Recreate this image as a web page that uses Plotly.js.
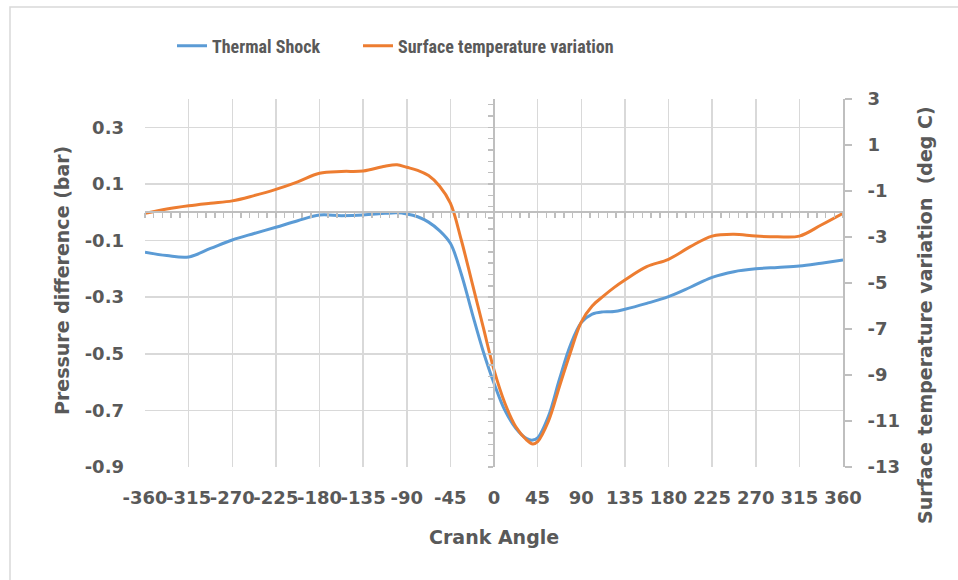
<!DOCTYPE html>
<html>
<head>
<meta charset="utf-8">
<script src="https://cdn.plot.ly/plotly-3.0.1.min.js"></script>
<style>html,body{margin:0;padding:0;background:#fff;}#chart{width:958px;height:580px;}</style>
</head>
<body>
<div id="chart"></div>
<script>
// Crank angle (deg)
const crankAngle = [-360,-337.5,-315,-292.5,-270,-247.5,-225,-202.5,-180,-157.5,-135,-112.5,-100,-90,-78.75,-67.5,-56.25,-45,-33.75,-22.5,-11.25,0,11.25,22.5,33.75,40,45,56.25,67.5,78.75,90,101.25,112.5,123.75,135,157.5,180,202.5,225,247.5,270,292.5,315,337.5,360];
// Thermal Shock: pressure difference (bar), left axis
const thermalShock = [-0.141,-0.153,-0.158,-0.128,-0.098,-0.075,-0.053,-0.030,-0.010,-0.012,-0.010,-0.004,-0.002,-0.006,-0.016,-0.035,-0.065,-0.110,-0.218,-0.357,-0.490,-0.604,-0.700,-0.763,-0.800,-0.805,-0.797,-0.720,-0.590,-0.470,-0.390,-0.360,-0.352,-0.351,-0.343,-0.322,-0.298,-0.265,-0.230,-0.210,-0.200,-0.195,-0.190,-0.180,-0.169];
// Surface temperature variation (deg C), right axis
const surfaceTemp = [-1.97,-1.78,-1.64,-1.53,-1.43,-1.20,-0.93,-0.60,-0.23,-0.15,-0.13,0.08,0.14,0.03,-0.10,-0.33,-0.78,-1.53,-3.13,-5.01,-6.90,-8.78,-10.23,-11.25,-11.83,-12.00,-11.90,-11.00,-9.50,-8.03,-6.70,-6.00,-5.58,-5.20,-4.87,-4.29,-3.97,-3.42,-2.96,-2.88,-2.96,-2.99,-2.96,-2.48,-1.97];

const seriesNames = ['Thermal Shock', 'Surface temperature variation'];

const xTickVals = [-360,-315,-270,-225,-180,-135,-90,-45,0,45,90,135,180,225,270,315,360];
const xTickText = ['-360','-315','-270','-225','-180','-135','-90','-45','0','45','90','135','180','225','270','315','360'];
const yTickVals = [-0.9,-0.7,-0.5,-0.3,-0.1,0.1,0.3];
const yTickText = ['-0.9','-0.7','-0.5','-0.3','-0.1','0.1','0.3'];
const y2TickVals = [-13,-11,-9,-7,-5,-3,-1,1,3];
const y2TickText = ['-13','-11','-9','-7','-5','-3','-1','1','3'];

const xTitle = 'Crank Angle';
const yTitle = 'Pressure difference (bar)';
const y2Title = 'Surface temperature variation  (deg C)';

const FONT = 'DejaVu Sans, Open Sans, sans-serif';
const NARROW = 'Liberation Sans Narrow, Roboto Condensed, Roboto, sans-serif';
const GREY = '#595959';
const GRID = '#d9d9d9';
const AXIS = '#bfbfbf';

const traces = [
  {x: crankAngle, y: thermalShock, name: seriesNames[0], type: 'scatter', mode: 'lines', legend: 'legend',
   line: {color: '#5B9BD5', width: 3, shape: 'spline', smoothing: 1}, xaxis: 'x', yaxis: 'y', hoverinfo: 'skip'},
  {x: crankAngle, y: surfaceTemp, name: seriesNames[1], type: 'scatter', mode: 'lines', legend: 'legend2',
   line: {color: '#ED7D31', width: 3, shape: 'spline', smoothing: 1}, xaxis: 'x', yaxis: 'y2', hoverinfo: 'skip'},
  // helpers so the axis-at-zero lines get drawn
  {x: [null], y: [null], xaxis: 'x2', yaxis: 'y', showlegend: false, hoverinfo: 'skip', mode: 'lines'},
  {x: [null], y: [null], xaxis: 'x', yaxis: 'y3', showlegend: false, hoverinfo: 'skip', mode: 'lines'}
];

const L = 145, T = 99, W = 698, H = 368;
const px = v => (v - L) / W;
const py = v => (T + H - v) / H;

const legendFont = {family: NARROW, size: 18, color: GREY, weight: 'bold'};

const layout = {
  width: 958, height: 580,
  margin: {l: L, r: 958 - L - W, t: T, b: 580 - T - H},
  paper_bgcolor: '#fff', plot_bgcolor: '#fff',
  showlegend: true,
  legend: {orientation: 'h', x: px(172), xanchor: 'left', y: py(46), yanchor: 'middle',
           font: legendFont, bgcolor: 'rgba(0,0,0,0)'},
  legend2: {orientation: 'h', x: px(358), xanchor: 'left', y: py(46), yanchor: 'middle',
           font: legendFont, bgcolor: 'rgba(0,0,0,0)'},
  xaxis: {range: [-360, 360], tickvals: xTickVals, ticktext: xTickText, tickangle: 0,
          showgrid: true, gridcolor: GRID, gridwidth: 1.5, zeroline: false, showline: false, ticks: '',
          ticklabelstandoff: 18,
          tickfont: {family: FONT, size: 18, color: GREY, weight: 'bold'}},
  xaxis2: {overlaying: 'x', anchor: 'free', position: 0.9 / 1.3, side: 'bottom', range: [-360, 360],
           showgrid: false, zeroline: false, showline: true, linecolor: AXIS, linewidth: 2,
           ticks: 'outside', tick0: -360, dtick: 9, ticklen: 5, tickwidth: 1.5, tickcolor: AXIS,
           showticklabels: false},
  yaxis: {range: [-0.9, 0.4], tickvals: yTickVals, ticktext: yTickText,
          showgrid: true, gridcolor: GRID, gridwidth: 1.5, zeroline: false, showline: false, ticks: '',
          ticklabelstandoff: 20,
          tickfont: {family: FONT, size: 18, color: GREY, weight: 'bold'}},
  yaxis2: {overlaying: 'y', side: 'right', anchor: 'x', range: [-13, 3], tickvals: y2TickVals, ticktext: y2TickText,
           showgrid: false, zeroline: false, showline: true, linecolor: AXIS, linewidth: 2,
           ticks: 'outside', ticklen: 7, tickwidth: 1.5, tickcolor: AXIS, ticklabelstandoff: 12,
           tickfont: {family: FONT, size: 18, color: GREY, weight: 'bold'}},
  yaxis3: {overlaying: 'y', anchor: 'free', position: 0.5, side: 'left', range: [-0.9, 0.4],
           showgrid: false, zeroline: false, showline: true, linecolor: AXIS, linewidth: 2,
           ticks: 'outside', tick0: -0.9, dtick: 0.04, ticklen: 5, tickwidth: 1.5, tickcolor: AXIS,
           showticklabels: false},
  shapes: [
    {type: 'rect', xref: 'paper', yref: 'paper', x0: px(10), x1: px(970), y0: py(595), y1: py(7),
     line: {color: GRID, width: 1.5}, fillcolor: 'rgba(0,0,0,0)', layer: 'below'}
  ],
  annotations: [
    {text: xTitle, xref: 'paper', yref: 'paper', x: px(494), y: py(537), xanchor: 'center', yanchor: 'middle',
     showarrow: false, font: {family: FONT, size: 19, color: GREY, weight: 'bold'}},
    {text: yTitle, xref: 'paper', yref: 'paper', x: px(62), y: py(281), xanchor: 'center', yanchor: 'middle',
     textangle: -90, showarrow: false, font: {family: FONT, size: 19, color: GREY, weight: 'bold'}},
    {text: y2Title, xref: 'paper', yref: 'paper', x: px(925), y: py(315), xanchor: 'center', yanchor: 'middle',
     textangle: -90, showarrow: false, font: {family: FONT, size: 19, color: GREY, weight: 'bold'}}
  ]
};

Plotly.newPlot('chart', traces, layout, {staticPlot: true, displayModeBar: false});
</script>
</body>
</html>
